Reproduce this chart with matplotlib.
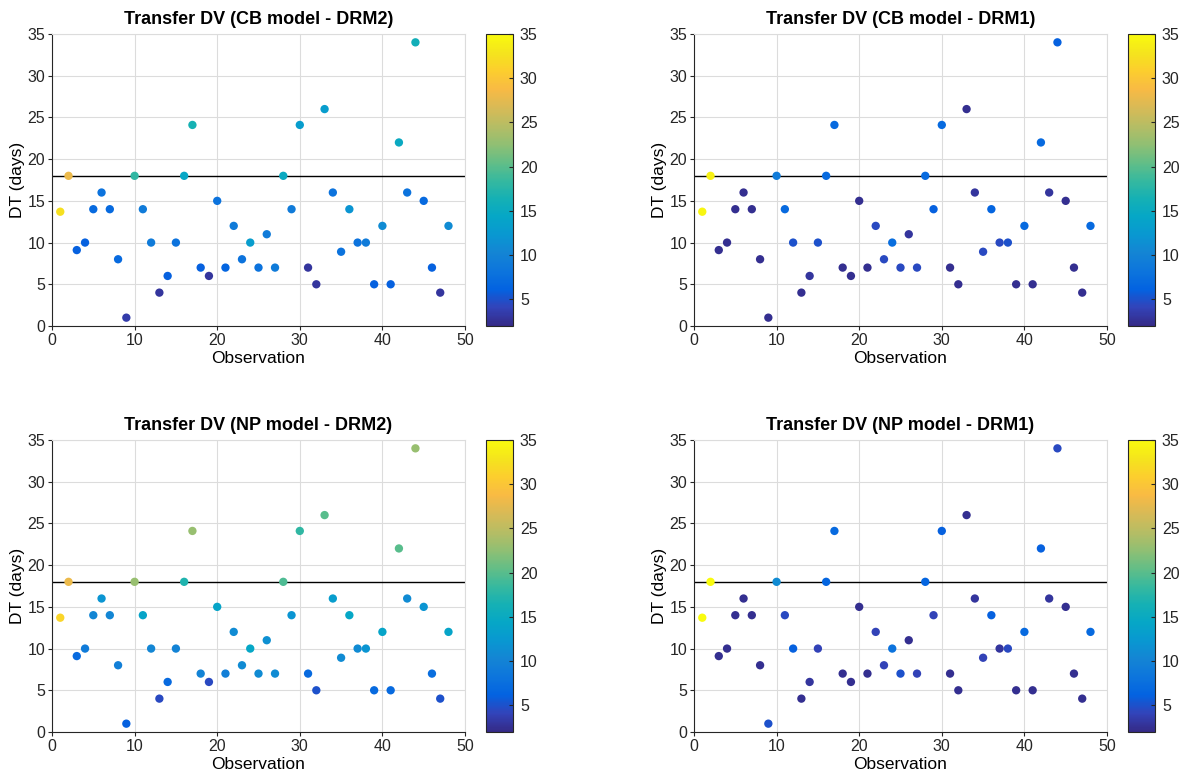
import numpy as np
import matplotlib.pyplot as plt
from matplotlib.colors import LinearSegmentedColormap

plt.rcParams['font.family'] = ['Liberation Sans', 'DejaVu Sans']

# observation number and transfer time (days)
obs = list(range(1, 49))
dt = [13.7, 18, 9.1, 10, 14, 16, 14, 8, 1, 18, 14, 10, 4, 6, 10, 18,
      24.1, 7, 6, 15, 7, 12, 8, 10, 7, 11, 7, 18, 14, 24.1, 7, 5,
      26, 16, 8.9, 14, 10, 10, 5, 12, 5, 22, 16, 34, 15, 7, 4, 12]

# colour values
c_cb_drm2 = [32.5, 28, 6, 6, 7, 8, 7, 7, 3.5, 18, 9, 9, 3, 6, 8, 14.5,
             16.5, 6, 3, 8, 6.5, 9, 8, 13, 8, 9, 9, 15, 9, 13, 3, 3,
             13, 8, 8, 12, 8, 9, 6, 11, 6, 15, 8, 16, 7, 6, 3, 11]
c_cb_drm1 = [34.5, 34, 2.5, 2.5, 2.5, 2.5, 2.5, 2.5, 2.5, 9, 7, 5, 2.5, 3, 5, 7,
             7, 2.5, 2.5, 2.5, 2.5, 4.5, 4.5, 7.5, 4.5, 3, 4.5, 7, 6, 7, 2.5, 2.5,
             2.5, 3, 4.5, 6.5, 4.5, 5, 2.5, 7, 2.5, 7, 3, 6, 2.5, 2.5, 2.5, 7]
c_np_drm2 = [31.5, 28, 7, 9, 10.5, 12, 10.5, 9.5, 6, 23, 14, 10.5, 4.5, 7, 10, 17,
             23, 10, 4.5, 14, 9.5, 11, 11, 14.5, 11, 11.5, 11, 19.5, 12, 18, 7, 5,
             20, 13, 11, 14.5, 11, 12, 7, 14, 7, 20, 11, 23, 12, 7.5, 5, 14]
c_np_drm1 = [35, 35, 2.5, 2.5, 2.5, 2.5, 2.5, 2.5, 5, 11, 4.5, 6, 2.5, 3, 4, 6.5,
             7, 2.5, 2.5, 2.5, 2.5, 4, 4, 8, 5, 2.5, 4, 6.5, 4, 6, 2.5, 2.5,
             2.5, 3, 4, 6, 3, 4.5, 2.5, 7, 2.5, 6, 3, 4.5, 2.5, 2.5, 2.5, 7]

titles = ['Transfer DV (CB model - DRM2)', 'Transfer DV (CB model - DRM1)',
          'Transfer DV (NP model - DRM2)', 'Transfer DV (NP model - DRM1)']
colours = [c_cb_drm2, c_cb_drm1, c_np_drm2, c_np_drm1]

# parula-like colormap
parula_pts = [
    (0.2081, 0.1663, 0.5292), (0.1959, 0.2645, 0.7279), (0.0117, 0.3875, 0.8820),
    (0.0498, 0.4586, 0.8641), (0.0793, 0.5200, 0.8312), (0.0343, 0.5966, 0.8199),
    (0.0228, 0.6535, 0.7768), (0.0843, 0.6928, 0.7062), (0.2178, 0.7250, 0.6193),
    (0.3953, 0.7459, 0.5244), (0.5709, 0.7485, 0.4494), (0.7184, 0.7411, 0.3905),
    (0.8507, 0.7299, 0.3360), (0.9739, 0.7314, 0.2666), (0.9880, 0.8066, 0.1794),
    (0.9589, 0.8949, 0.1132), (0.9763, 0.9831, 0.0538)]
parula = LinearSegmentedColormap.from_list('parula', parula_pts)

fig = plt.figure(figsize=(11.81, 7.73), dpi=100)
W, H = 1181, 773
ax_left = [52, 694]
ax_top = [34, 440]
ax_w, ax_h = 413, 292
grey = '#dcdcdc'
dark = '#262626'

for i in range(4):
    col, row = i % 2, i // 2
    l = ax_left[col]
    t = ax_top[row]
    ax = fig.add_axes([l / W, 1 - (t + ax_h) / H, ax_w / W, ax_h / H])
    sc = ax.scatter(obs, dt, c=colours[i], cmap=parula, vmin=2, vmax=35,
                    s=36, zorder=3, linewidths=0)
    ax.axhline(18, color='black', lw=1, zorder=2)
    ax.set_xlim(0, 50)
    ax.set_ylim(0, 35)
    ax.set_xticks(range(0, 51, 10))
    ax.set_yticks(range(0, 36, 5))
    ax.grid(True, color=grey, lw=0.8)
    ax.set_axisbelow(True)
    ax.spines['top'].set_color(grey)
    ax.spines['right'].set_color(grey)
    ax.spines['left'].set_color(dark)
    ax.spines['bottom'].set_color(dark)
    ax.tick_params(direction='out', length=3, width=0.8, pad=2, labelsize=11.5,
                   colors=dark, top=False, right=False)
    ax.set_title(titles[i], fontsize=13, fontweight='bold', pad=7)
    ax.set_xlabel('Observation', fontsize=12.5, labelpad=2)
    ax.set_ylabel('DT (days)', fontsize=12.5, labelpad=2)

    cax = fig.add_axes([(l + 434) / W, 1 - (t + ax_h) / H, 27 / W, ax_h / H])
    cb = fig.colorbar(sc, cax=cax)
    cb.set_ticks(range(5, 36, 5))
    cb.ax.tick_params(direction='in', length=3, width=0.8, pad=5,
                      labelsize=11.5, colors=dark)
    cb.outline.set_edgecolor(dark)
    cb.outline.set_linewidth(0.8)

fig.savefig('out.png', dpi=100)
